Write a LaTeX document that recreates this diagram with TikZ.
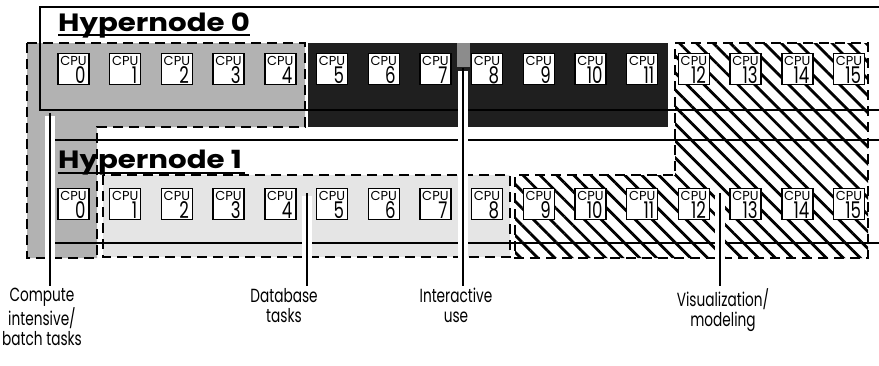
\documentclass[tikz,border=0pt]{standalone}
\usepackage{fontspec}
\setmainfont{Poppins}
\usepackage{graphicx}
\usetikzlibrary{patterns.meta}
\newcommand\capt[1]{\scalebox{0.72}[1]{\begin{tabular}{@{}c@{}}#1\end{tabular}}}
\begin{document}
\begin{tikzpicture}[x=1pt,y=-1pt,
  regionline/.style={draw=black, line width=1.6pt, dash pattern=on 10pt off 6pt},
  framestyle/.style={draw=black, line width=2pt},
  cpubox/.style={draw=black, fill=white, line width=1.4pt, minimum width=31pt, minimum height=31pt, inner sep=0pt},
  cputext/.style={font=\fontsize{13}{13}\selectfont, inner sep=0pt},
  cpunum/.style={font=\fontsize{23}{23}\selectfont, inner sep=0pt},
  pointer/.style={draw=black, line width=1.6pt},
  halo/.style={draw=white, line width=10pt},
  caption/.style={font=\fontsize{19}{19.5}\selectfont, align=center, inner sep=0pt, anchor=north},
  hnlabel/.style={font=\fontsize{25}{25}\selectfont\bfseries, inner sep=0pt, anchor=base west}
]
\useasboundingbox[fill=white] (0,0) rectangle (879,365);

% ---- regions ----
% compute intensive / batch
\fill[black!30] (27,43) -- (305,43) -- (305,127) -- (97,127) -- (97,258) -- (27,258) -- cycle;
\path[regionline] (27,43) -- (305,43) -- (305,127) -- (97,127) -- (97,258) -- (27,258) -- cycle;
% database
\fill[black!10] (103,175) rectangle (510,257);
\path[regionline] (103,175) rectangle (510,257);
% interactive
\fill[black!88] (308,43) rectangle (668,127);
\fill[black!45] (457,43) rectangle (470,67);
% visualization / modeling
\fill[pattern={Lines[angle=-45,distance=12pt,line width=2.8pt]}]
  (675,43) -- (868,43) -- (868,258) -- (515,258) -- (515,175) -- (675,175) -- cycle;
\path[regionline] (675,43) -- (868,43) -- (868,258) -- (515,258) -- (515,175) -- (675,175) -- cycle;

% ---- hypernode frames ----
\path[framestyle] (879,7) -- (40,7) -- (40,110) -- (879,110);
\path[framestyle] (879,140) -- (50,140) -- (50,243) -- (879,243);

% ---- CPUs ----
\foreach \i in {0,...,15} {
  \pgfmathsetmacro\cx{73.5+51.7*\i}
  \node[cpubox] (h0c\i) at (\cx,69) {};
  \node[cputext, anchor=north] (h0t\i) at ([yshift=-3pt]h0c\i.north) {CPU};
  \node[cpunum, anchor=south east] (h0n\i) at ([xshift=-4pt,yshift=1.5pt]h0c\i.south east) {\scalebox{0.72}[1]{\i}};
  \node[cpubox] (h1c\i) at (\cx,204) {};
  \node[cputext, anchor=north] (h1t\i) at ([yshift=-3pt]h1c\i.north) {CPU};
  \node[cpunum, anchor=south east] (h1n\i) at ([xshift=-4pt,yshift=1.5pt]h1c\i.south east) {\scalebox{0.72}[1]{\i}};
}

% ---- hypernode labels ----
\node[hnlabel] (hn0) at (58,31) {\scalebox{1.17}[1]{Hypernode 0}};
\draw[line width=2pt] (hn0.base west) ++(0,4) -- ++(192,0);
\node[hnlabel] (hn1) at (58,168) {\scalebox{1.17}[1]{Hypernode 1}};
\draw[line width=2pt] (hn1.base west) ++(0,5) -- ++(187,0);

% ---- captions ----
\node[caption] (lcomp) at (42,288) {\capt{Compute\\intensive/\\batch tasks}};
\node[caption] (ldb) at (284,288) {\capt{Database\\tasks}};
\node[caption] (lint) at (456,288) {\capt{Interactive\\use}};
\node[caption] (lvis) at (723,288) {\capt{Visualization/\\modeling}};

% ---- pointers ----
\coordinate (pcomp) at (50,113);
\coordinate (pdb) at (307,193);
\coordinate (pint) at (463,68);
\coordinate (pvis) at (720,193);
\foreach \p/\l in {pcomp/lcomp,pdb/ldb,pint/lint,pvis/lvis} {
  \draw[halo] ([yshift=-3pt]\p) -- (\p |- \l.north);
  \draw[pointer] (\p) -- ([yshift=2pt]\p |- \l.north);
}
\end{tikzpicture}
\end{document}
